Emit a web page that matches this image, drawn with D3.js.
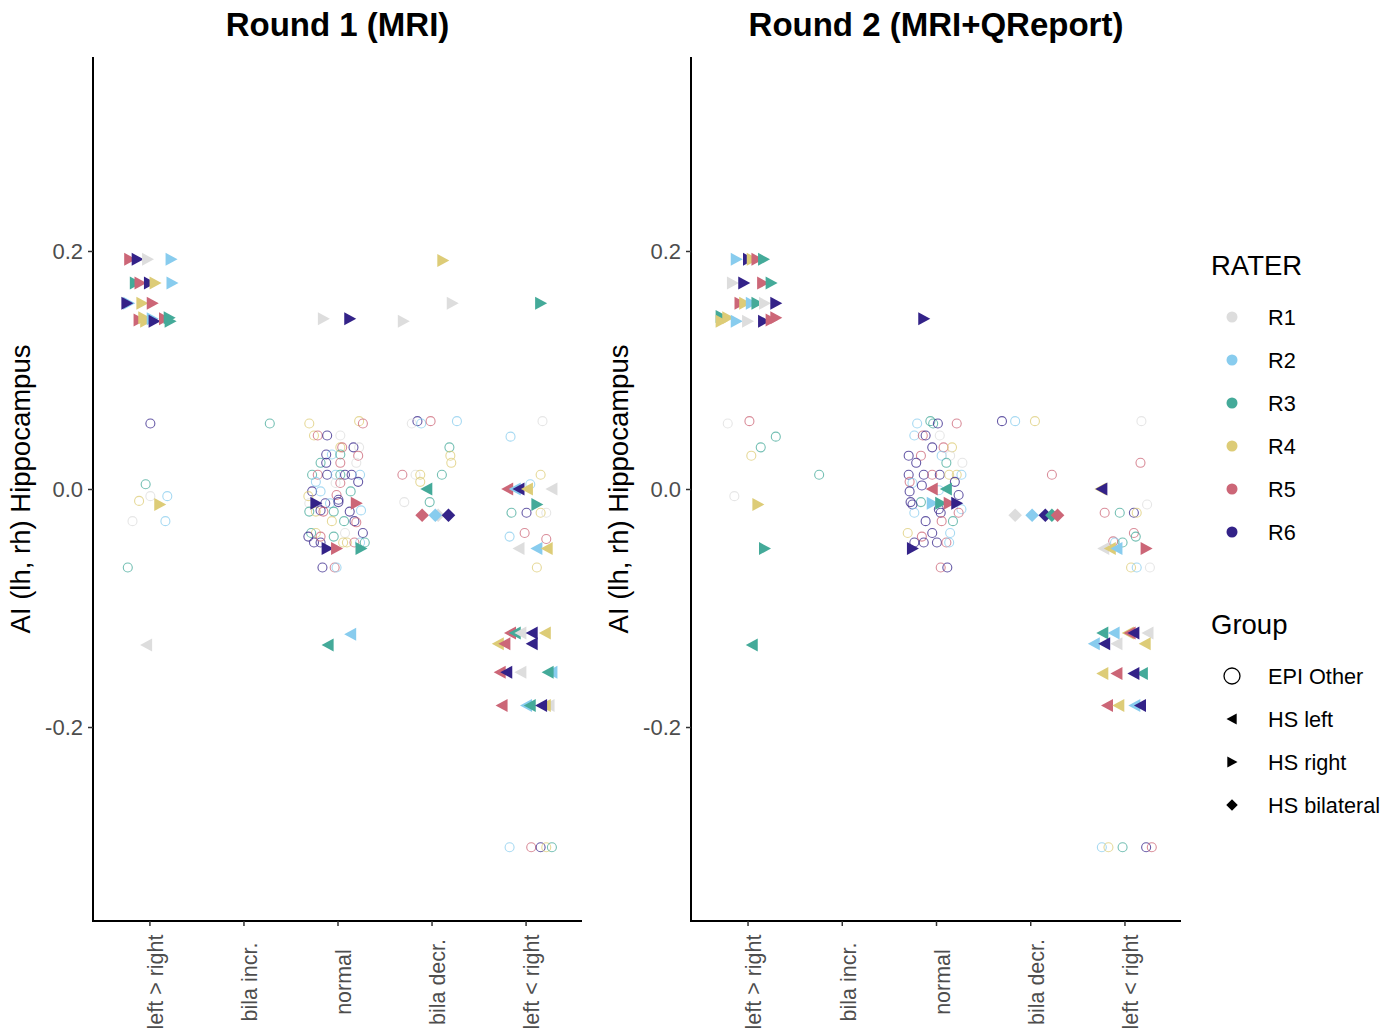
<!DOCTYPE html>
<html>
<head>
<meta charset="utf-8">
<script src="https://cdn.jsdelivr.net/npm/d3@7"></script>
<style>
  body { margin: 0; background: #fff; }
  text { font-family: "Liberation Sans", Arial, sans-serif; }
</style>
</head>
<body>
<svg id="chart" width="1399" height="1035"></svg>
<script>
// categories on the x axis, raters and groups for the legends
const categories = ["left > right", "bila incr.", "normal", "bila decr.", "left < right"];
const raters = ["R1", "R2", "R3", "R4", "R5", "R6"];
const raterColors = ["#DDDDDD", "#88CCEE", "#44AA99", "#DDCC77", "#CC6677", "#332288"];
const groups = ["EPI Other", "HS left", "HS right", "HS bilateral"];
const groupCodes = ["o", "l", "r", "b"];
const yTicks = [-0.2, 0.0, 0.2];
const panelTitles = ["Round 1 (MRI)", "Round 2 (MRI+QReport)"];

// [category index, rater, group, AI value, horizontal jitter (in category steps)]
const round1 = [
  // left > right
  [0,5,"r",0.193,-0.21],[0,6,"r",0.193,-0.13],[0,1,"r",0.193,-0.02],[0,2,"r",0.193,0.23],
  [0,3,"r",0.173,-0.15],[0,5,"r",0.173,-0.10],[0,6,"r",0.173,0.0],[0,4,"r",0.173,0.06],[0,2,"r",0.173,0.24],
  [0,2,"r",0.156,-0.22],[0,6,"r",0.156,-0.24],[0,4,"r",0.156,-0.08],[0,5,"r",0.156,0.03],
  [0,5,"r",0.142,-0.11],[0,4,"r",0.144,-0.06],[0,4,"r",0.141,-0.04],[0,2,"r",0.143,0.03],[0,6,"r",0.141,0.05],
  [0,5,"r",0.143,0.16],[0,3,"r",0.144,0.21],[0,3,"r",0.141,0.22],
  [0,6,"o",0.055,0.01],[0,3,"o",0.004,-0.04],[0,1,"o",-0.006,0.01],[0,2,"o",-0.006,0.19],[0,4,"o",-0.010,-0.11],
  [0,1,"o",-0.027,-0.18],[0,2,"o",-0.027,0.17],[0,3,"o",-0.066,-0.23],
  [0,4,"r",-0.013,0.11],[0,1,"l",-0.131,-0.03],
  // bila incr.
  [1,3,"o",0.055,0.28],
  // normal
  [2,4,"o",0.055,-0.30],[2,4,"o",0.057,0.23],[2,5,"o",0.055,0.27],[2,4,"o",0.045,-0.25],[2,5,"o",0.045,-0.21],
  [2,6,"o",0.045,-0.11],[2,1,"o",0.045,0.03],[2,4,"o",0.035,0.03],[2,5,"o",0.035,0.05],[2,6,"o",0.035,0.17],
  [2,1,"o",0.035,0.23],[2,6,"o",0.029,-0.12],[2,2,"o",0.029,-0.06],[2,3,"o",0.029,0.03],[2,5,"o",0.028,0.22],
  [2,3,"o",0.022,-0.18],[2,6,"o",0.022,-0.12],[2,5,"o",0.022,0.03],[2,1,"o",0.022,0.20],[2,3,"o",0.012,-0.27],
  [2,5,"o",0.012,-0.21],[2,6,"o",0.012,-0.11],[2,2,"o",0.012,-0.02],[2,3,"o",0.012,0.03],[2,6,"o",0.012,0.08],
  [2,6,"o",0.012,0.15],[2,2,"o",0.012,0.24],[2,6,"o",0.006,0.22],[2,2,"o",0.006,-0.23],[2,5,"o",0.005,0.03],
  [2,1,"o",0.005,-0.02],[2,6,"o",-0.002,-0.27],[2,2,"o",-0.002,-0.18],[2,3,"o",-0.002,0.14],[2,4,"o",-0.006,-0.31],
  [2,5,"o",-0.005,-0.01],[2,6,"o",-0.009,0.01],[2,6,"o",-0.012,-0.13],[2,2,"o",-0.012,-0.08],[2,6,"o",-0.011,0.01],
  [2,1,"o",-0.012,-0.30],[2,3,"o",-0.019,-0.30],[2,4,"o",-0.019,-0.23],[2,6,"o",-0.018,-0.18],[2,5,"o",-0.019,-0.15],
  [2,3,"o",-0.019,-0.04],[2,6,"o",-0.019,0.13],[2,2,"o",-0.018,0.25],[2,4,"o",-0.027,-0.06],[2,3,"o",-0.027,0.07],
  [2,6,"o",-0.027,0.18],[2,5,"o",-0.028,0.20],[2,3,"o",-0.037,-0.28],[2,4,"o",-0.037,-0.23],[2,1,"o",-0.037,0.08],
  [2,6,"o",-0.037,0.27],[2,6,"o",-0.040,-0.31],[2,6,"o",-0.045,-0.25],[2,6,"o",-0.045,-0.18],[2,5,"o",-0.040,-0.18],
  [2,3,"o",-0.040,-0.04],[2,4,"o",-0.045,0.06],[2,4,"o",-0.045,0.10],[2,5,"o",-0.045,0.18],[2,2,"o",-0.045,0.24],
  [2,3,"o",-0.045,0.29],[2,6,"o",-0.066,-0.16],[2,5,"o",-0.066,-0.03],[2,2,"o",-0.066,-0.01],
  [2,6,"r",-0.012,-0.23],[2,5,"r",-0.012,0.20],[2,6,"r",-0.050,-0.11],[2,5,"r",-0.050,-0.01],[2,3,"r",-0.050,0.25],
  [2,3,"l",-0.131,-0.10],[2,2,"l",-0.122,0.14],[2,1,"r",0.143,-0.15],[2,6,"r",0.143,0.13],
  // bila decr.
  [3,4,"r",0.192,0.12],[3,1,"r",0.156,0.22],[3,1,"r",0.141,-0.30],
  [3,6,"o",0.057,-0.15],[3,1,"o",0.055,-0.21],[3,2,"o",0.055,-0.11],[3,5,"o",0.057,-0.01],[3,2,"o",0.057,0.27],
  [3,3,"o",0.035,0.19],[3,4,"o",0.028,0.20],[3,4,"o",0.022,0.21],[3,5,"o",0.012,-0.31],[3,1,"o",0.012,-0.17],
  [3,4,"o",0.012,-0.12],[3,4,"o",0.006,-0.12],[3,3,"o",0.012,0.11],[3,1,"o",-0.011,-0.29],[3,3,"o",-0.011,-0.02],
  [3,3,"l",0.0,-0.05],
  [3,5,"b",-0.022,-0.10],[3,1,"b",-0.022,0.07],[3,2,"b",-0.022,0.04],[3,6,"b",-0.022,0.18],
  // left < right
  [4,3,"r",0.156,0.16],
  [4,1,"o",0.057,0.18],[4,2,"o",0.044,-0.16],[4,4,"o",0.012,0.16],[4,2,"o",0.004,0.05],[4,3,"o",-0.020,-0.15],
  [4,6,"o",-0.020,0.01],[4,4,"o",-0.020,0.16],[4,1,"o",-0.020,0.22],[4,2,"o",-0.040,-0.17],[4,5,"o",-0.037,-0.01],
  [4,5,"o",-0.042,0.22],[4,4,"o",-0.066,0.12],
  [4,5,"l",0.0,-0.19],[4,2,"l",0.0,-0.11],[4,6,"l",0.0,-0.07],[4,4,"l",0.0,0.02],[4,1,"l",0.0,0.28],
  [4,3,"r",-0.013,0.12],
  [4,1,"l",-0.050,-0.07],[4,2,"l",-0.050,0.12],[4,4,"l",-0.050,0.23],
  [4,5,"l",-0.121,-0.16],[4,3,"l",-0.121,-0.11],[4,1,"l",-0.121,-0.05],[4,6,"l",-0.121,0.07],[4,4,"l",-0.121,0.21],
  [4,4,"l",-0.130,-0.29],[4,5,"l",-0.130,-0.22],[4,6,"l",-0.130,0.07],
  [4,5,"l",-0.154,-0.27],[4,6,"l",-0.154,-0.20],[4,1,"l",-0.154,-0.05],[4,2,"l",-0.154,0.28],[4,3,"l",-0.154,0.24],
  [4,5,"l",-0.182,-0.25],[4,1,"l",-0.182,0.25],[4,4,"l",-0.182,0.21],[4,2,"l",-0.182,0.01],[4,3,"l",-0.182,0.05],
  [4,6,"l",-0.182,0.17],
  [4,2,"o",-0.301,-0.17],[4,5,"o",-0.301,0.06],[4,6,"o",-0.301,0.16],[4,4,"o",-0.301,0.22],[4,3,"o",-0.301,0.28]
];

const round2 = [
  // left > right
  [0,2,"r",0.193,-0.12],[0,6,"r",0.193,0.01],[0,4,"r",0.193,0.05],[0,5,"r",0.193,0.10],[0,3,"r",0.193,0.17],
  [0,1,"r",0.173,-0.16],[0,6,"r",0.173,-0.04],[0,5,"r",0.173,0.16],[0,3,"r",0.173,0.25],
  [0,5,"r",0.156,-0.08],[0,4,"r",0.156,-0.03],[0,2,"r",0.156,0.04],[0,3,"r",0.156,0.10],[0,1,"r",0.156,0.18],[0,6,"r",0.156,0.30],
  [0,3,"r",0.145,-0.28],[0,4,"r",0.141,-0.28],[0,4,"r",0.144,-0.21],[0,2,"r",0.141,-0.12],[0,1,"r",0.141,0.0],
  [0,6,"r",0.141,0.17],[0,5,"r",0.142,0.25],[0,5,"r",0.144,0.30],
  [0,1,"o",0.055,-0.21],[0,5,"o",0.057,0.02],[0,3,"o",0.044,0.30],[0,3,"o",0.035,0.14],[0,4,"o",0.028,0.04],
  [0,1,"o",-0.006,-0.14],
  [0,4,"r",-0.013,0.11],[0,3,"r",-0.050,0.18],[0,3,"l",-0.131,0.05],
  // bila incr.
  [1,3,"o",0.012,-0.24],
  // normal
  [2,2,"o",0.055,-0.20],[2,3,"o",0.057,-0.06],[2,3,"o",0.055,-0.03],[2,6,"o",0.055,0.02],[2,5,"o",0.055,0.22],
  [2,2,"o",0.045,-0.23],[2,5,"o",0.045,-0.14],[2,6,"o",0.045,-0.11],[2,1,"o",0.045,0.04],[2,6,"o",0.035,-0.04],
  [2,5,"o",0.035,0.08],[2,4,"o",0.035,0.17],[2,2,"o",0.028,0.06],[2,1,"o",0.028,0.15],[2,6,"o",0.028,-0.29],
  [2,5,"o",0.028,-0.16],[2,3,"o",0.022,0.11],[2,6,"o",0.022,-0.21],[2,1,"o",0.022,0.28],[2,6,"o",0.012,-0.29],
  [2,6,"o",0.012,-0.13],[2,5,"o",0.012,-0.04],[2,6,"o",0.012,0.04],[2,4,"o",0.012,0.14],[2,4,"o",0.012,0.22],
  [2,2,"o",0.012,0.27],[2,5,"o",0.006,-0.28],[2,2,"o",0.005,-0.25],[2,6,"o",0.003,-0.15],[2,6,"o",0.006,0.20],
  [2,2,"o",-0.001,0.03],[2,6,"o",-0.002,-0.28],[2,6,"o",-0.005,0.24],[2,6,"o",-0.011,-0.27],[2,3,"o",-0.011,-0.16],
  [2,6,"o",-0.013,-0.25],[2,2,"o",-0.017,0.27],[2,6,"o",-0.017,0.03],[2,2,"o",-0.020,-0.23],[2,6,"o",-0.020,0.05],
  [2,5,"o",-0.020,0.24],[2,6,"o",-0.027,-0.11],[2,5,"o",-0.027,0.06],[2,3,"o",-0.027,0.18],[2,4,"o",-0.037,-0.30],
  [2,6,"o",-0.037,-0.04],[2,2,"o",-0.037,0.15],[2,6,"o",-0.045,-0.23],[2,5,"o",-0.040,-0.15],[2,6,"o",-0.045,-0.13],
  [2,6,"o",-0.045,0.01],[2,5,"o",-0.045,0.11],[2,2,"o",-0.045,0.14],[2,5,"o",-0.066,0.05],[2,6,"o",-0.066,0.12],
  [2,5,"l",0.0,-0.04],[2,3,"l",0.0,0.11],
  [2,2,"r",-0.012,-0.04],[2,3,"r",-0.012,0.05],[2,5,"r",-0.012,0.14],[2,6,"r",-0.012,0.22],
  [2,6,"r",-0.050,-0.25],[2,6,"r",0.143,-0.13],
  // bila decr.
  [3,6,"o",0.057,-0.30],[3,2,"o",0.057,-0.16],[3,4,"o",0.057,0.05],[3,5,"o",0.012,0.23],
  [3,1,"b",-0.022,-0.16],[3,2,"b",-0.022,0.02],[3,6,"b",-0.022,0.16],[3,3,"b",-0.022,0.23],[3,5,"b",-0.022,0.29],
  // left < right
  [4,1,"o",0.057,0.18],[4,5,"o",0.022,0.17],[4,1,"o",-0.013,0.24],[4,5,"o",-0.020,-0.21],[4,3,"o",-0.020,-0.05],
  [4,6,"o",-0.020,0.10],[4,4,"o",-0.020,0.13],[4,5,"o",-0.037,0.10],[4,3,"o",-0.040,0.12],[4,5,"o",-0.044,-0.12],
  [4,2,"o",-0.045,-0.10],[4,3,"o",-0.045,-0.02],[4,4,"o",-0.066,0.07],[4,2,"o",-0.066,0.13],[4,1,"o",-0.066,0.27],
  [4,4,"l",0.0,-0.25],[4,6,"l",0.0,-0.24],
  [4,1,"l",-0.050,-0.22],[4,4,"l",-0.050,-0.15],[4,2,"l",-0.050,-0.08],[4,5,"r",-0.050,0.23],
  [4,3,"l",-0.121,-0.23],[4,2,"l",-0.121,-0.11],[4,4,"l",-0.121,0.04],[4,5,"l",-0.121,0.06],[4,6,"l",-0.121,0.10],[4,1,"l",-0.121,0.25],
  [4,2,"l",-0.130,-0.32],[4,6,"l",-0.130,-0.21],[4,1,"l",-0.130,-0.08],[4,4,"l",-0.130,0.22],
  [4,4,"l",-0.155,-0.23],[4,5,"l",-0.155,-0.08],[4,3,"l",-0.155,0.19],[4,6,"l",-0.155,0.10],
  [4,5,"l",-0.182,-0.18],[4,4,"l",-0.182,-0.06],[4,2,"l",-0.182,0.11],[4,6,"l",-0.182,0.17],
  [4,2,"o",-0.301,-0.24],[4,4,"o",-0.301,-0.17],[4,3,"o",-0.301,-0.02],[4,6,"o",-0.301,0.23],[4,5,"o",-0.301,0.29]
];

const svg = d3.select("#chart");
svg.append("rect").attr("width", 1399).attr("height", 1035).attr("fill", "#fff");

const color = d3.scaleOrdinal().domain(d3.range(1, 7)).range(raterColors);

function shapePath(code) {
  if (code === "r") return "M-5.5,-6.5L6.5,0L-5.5,6.5Z";
  if (code === "l") return "M5.5,-6.5L-6.5,0L5.5,6.5Z";
  return "M0,-6.8L6.8,0L0,6.8L-6.8,0Z";
}

const y = d3.scaleLinear().domain([-0.363, 0.363]).range([921, 57]);

const panels = [
  { x0: 93, x1: 582, data: round1, title: panelTitles[0] },
  { x0: 691, x1: 1181, data: round2, title: panelTitles[1] }
];

panels.forEach(p => {
  const x = d3.scalePoint().domain(d3.range(categories.length)).range([p.x0, p.x1]).padding(0.6);
  const step = x.step();
  const g = svg.append("g");

  // axes
  const yAxis = g.append("g")
    .attr("transform", `translate(${p.x0},0)`)
    .call(d3.axisLeft(y).tickValues(yTicks).tickFormat(d3.format(".1f")).tickSizeOuter(0).tickSize(5).tickPadding(5));
  yAxis.select(".domain").attr("stroke", "#000").attr("stroke-width", 2).attr("d", `M0,${y.range()[1]}V${y.range()[0] + 1}`);
  yAxis.selectAll(".tick line").attr("stroke", "#333").attr("stroke-width", 1.5);
  yAxis.selectAll(".tick text").attr("fill", "#4d4d4d").style("font-size", "22px")
    .text(d => d3.format(".1f")(d).replace("−", "-"));

  const xAxis = g.append("g")
    .attr("transform", "translate(0,921)")
    .call(d3.axisBottom(x).tickFormat(i => categories[i]).tickSizeOuter(0).tickSize(5));
  xAxis.select(".domain").attr("stroke", "#000").attr("stroke-width", 2).attr("d", `M${p.x0 - 1},0H${p.x1}`);
  xAxis.selectAll(".tick line").attr("stroke", "#333").attr("stroke-width", 1.5);
  xAxis.selectAll(".tick text")
    .attr("fill", "#4d4d4d").style("font-size", "21.5px")
    .attr("text-anchor", "middle")
    .attr("transform", "translate(0,61) rotate(-90)")
    .attr("x", 0).attr("y", 0).attr("dy", "0.62em");

  // axis title and panel title
  g.append("text")
    .attr("transform", `translate(${p.x0 - 63},489) rotate(-90)`)
    .attr("text-anchor", "middle")
    .style("font-size", "27.5px")
    .text("AI (lh, rh) Hippocampus");

  g.append("text")
    .attr("x", (p.x0 + p.x1) / 2).attr("y", 36)
    .attr("text-anchor", "middle")
    .style("font-size", "33px").style("font-weight", "bold")
    .text(p.title);

  const pts = p.data.map(d => ({ cat: d[0], rater: d[1], group: d[2], value: d[3], jit: d[4] }));

  g.selectAll("circle.pt")
    .data(pts.filter(d => d.group === "o"))
    .join("circle")
    .attr("class", "pt")
    .attr("cx", d => x(d.cat) + d.jit * step)
    .attr("cy", d => y(d.value))
    .attr("r", 4.5)
    .attr("fill", "none")
    .attr("stroke", d => color(d.rater))
    .attr("stroke-opacity", 0.75)
    .attr("stroke-width", 1.1);

  g.selectAll("path.pt")
    .data(pts.filter(d => d.group !== "o"))
    .join("path")
    .attr("class", "pt")
    .attr("transform", d => `translate(${x(d.cat) + d.jit * step},${y(d.value)})`)
    .attr("d", d => shapePath(d.group))
    .attr("fill", d => color(d.rater));
});

// legends
const lg = svg.append("g");
lg.append("text").attr("x", 1211).attr("y", 275).style("font-size", "27.5px").text("RATER");
raters.forEach((r, i) => {
  const cy = 317 + i * 43;
  lg.append("circle").attr("cx", 1232).attr("cy", cy).attr("r", 5.5).attr("fill", raterColors[i]);
  lg.append("text").attr("x", 1268).attr("y", cy).attr("dy", "0.35em").style("font-size", "21.7px").text(r);
});

lg.append("text").attr("x", 1211).attr("y", 634).style("font-size", "27.5px").text("Group");
groups.forEach((gname, i) => {
  const cy = 676 + i * 43;
  if (groupCodes[i] === "o") {
    lg.append("circle").attr("cx", 1232).attr("cy", cy).attr("r", 8)
      .attr("fill", "none").attr("stroke", "#000").attr("stroke-width", 1.3);
  } else {
    lg.append("path").attr("transform", `translate(1232,${cy}) scale(0.85)`)
      .attr("d", shapePath(groupCodes[i])).attr("fill", "#000");
  }
  lg.append("text").attr("x", 1268).attr("y", cy).attr("dy", "0.35em").style("font-size", "21.7px").text(gname);
});
</script>
</body>
</html>
